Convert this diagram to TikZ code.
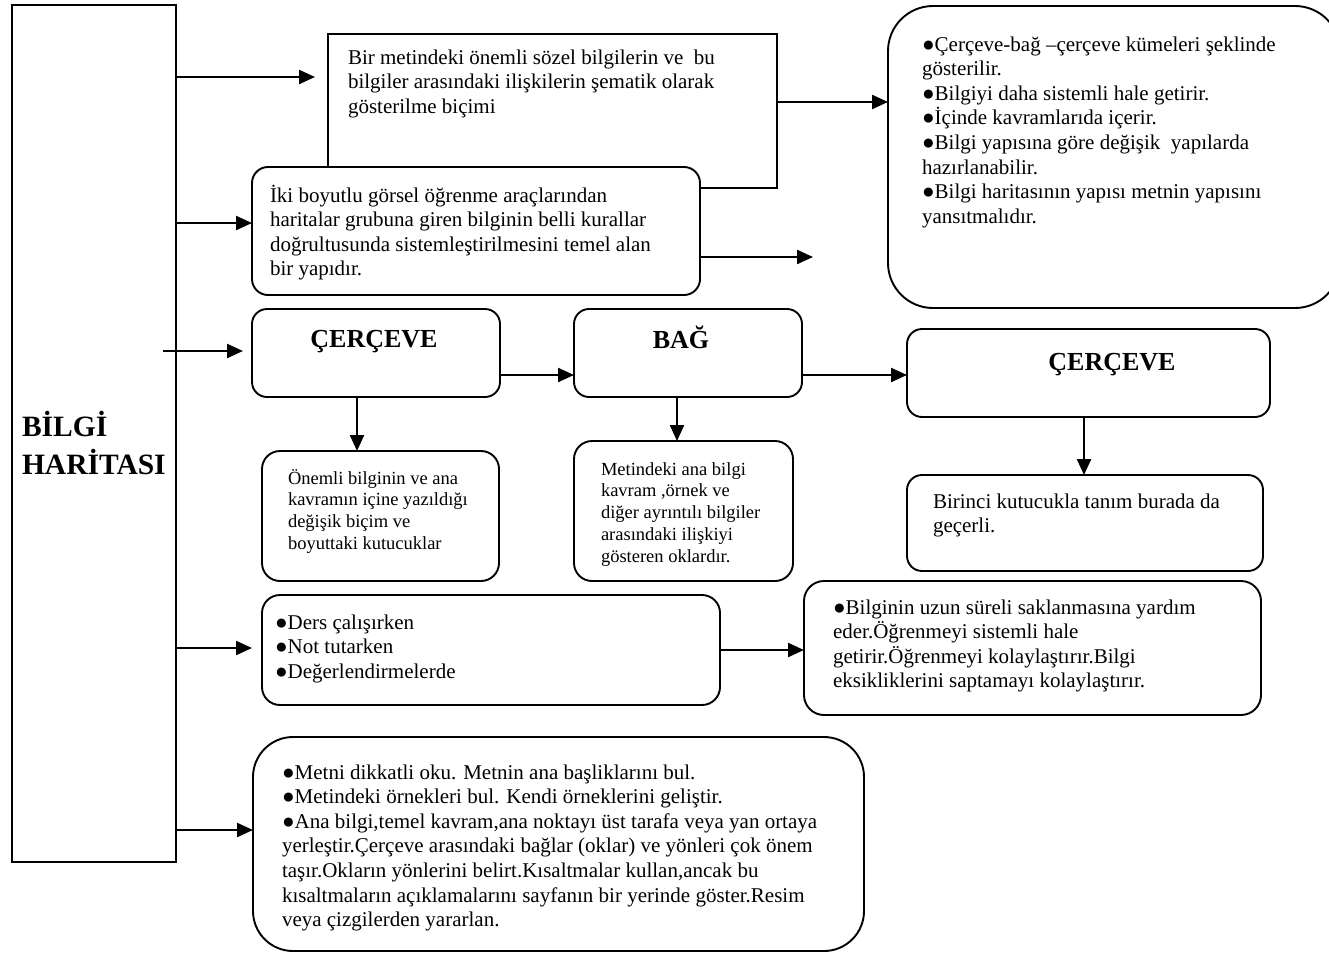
\documentclass[tikz,border=0pt]{standalone}
\usepackage{fontspec}
\setmainfont{Liberation Serif}
\usetikzlibrary{arrows.meta}

% text sizes (1pt = one unit of the drawing grid)
\newcommand\bodyfont{\fontsize{21}{24.6}\selectfont}
\newcommand\smallbody{\fontsize{18.5}{21.8}\selectfont}
\newcommand\headfont{\fontsize{26}{30}\selectfont\bfseries}
\newcommand\titlefont{\fontsize{29.5}{38}\selectfont\bfseries}
% top-aligned block of lines: its baseline is that of the first line
\newcommand\txtblock[1]{\parbox[t]{640pt}{\raggedright #1}}

\tikzset{
  box/.style={draw, fill=white, line width=1.9pt, inner sep=0pt, outer sep=0pt,
              anchor=north west, rounded corners=#1},
  box/.default=16pt,
  sbox/.style={draw, fill=white, line width=1.9pt, inner sep=0pt, outer sep=0pt,
               anchor=north west},
  arr/.style={line width=2.3pt, -{Triangle[length=16pt,width=14pt]}},
  txt/.style={anchor=base west, inner sep=0pt, outer sep=0pt},
  head/.style={anchor=base, inner sep=0pt, outer sep=0pt, font=\headfont},
}

\begin{document}
\begin{tikzpicture}[x=1pt,y=-1pt]
\path[use as bounding box] (0,0) rectangle (1329,953);
\clip (0,0) rectangle (1329,953);

% main column
\node[sbox, minimum width=164pt, minimum height=857pt] (bh) at (12,5) {};
\node[txt, font=\titlefont] (title) at (22,436) {\txtblock{BİLGİ\\HARİTASI}};

% definition boxes
\node[sbox, minimum width=449pt, minimum height=154pt] (A) at (328,34) {};
\node[txt, font=\bodyfont] (tA) at (348,64) {\txtblock{Bir metindeki önemli sözel bilgilerin ve\ \ bu\\
bilgiler arasındaki ilişkilerin şematik olarak\\
gösterilme biçimi}};

\node[box=16pt, minimum width=448pt, minimum height=128pt] (B) at (252,167) {};
\node[txt, font=\bodyfont] (tB) at (270,202) {\txtblock{İki boyutlu görsel öğrenme araçlarından\\
haritalar grubuna giren bilginin belli kurallar\\
doğrultusunda sistemleştirilmesini temel alan\\
bir yapıdır.}};

\node[box=45pt, minimum width=452pt, minimum height=302pt] (C) at (888,6) {};
\node[txt, font=\bodyfont] (tC) at (922,51) {\txtblock{●Çerçeve-bağ –çerçeve kümeleri şeklinde\\
gösterilir.\\
●Bilgiyi daha sistemli hale getirir.\\
●İçinde kavramlarıda içerir.\\
●Bilgi yapısına göre değişik\ \ yapılarda\\
hazırlanabilir.\\
●Bilgi haritasının yapısı metnin yapısını\\
yansıtmalıdır.}};

% frame - link - frame
\node[box=15pt, minimum width=248pt, minimum height=88pt] (D) at (252,309) {};
\node[head] (tD) at (374,347) {ÇERÇEVE};
\node[box=15pt, minimum width=228pt, minimum height=88pt] (E) at (574,309) {};
\node[head] (tE) at (681,348) {BAĞ};
\node[box=15pt, minimum width=363pt, minimum height=88pt] (F) at (907,329) {};
\node[head] (tF) at (1112,370) {ÇERÇEVE};

\node[box=18pt, minimum width=237pt, minimum height=130pt] (G) at (262,451) {};
\node[txt, font=\smallbody] (tG) at (288,484) {\txtblock{Önemli bilginin ve ana\\
kavramın içine yazıldığı\\
değişik biçim ve\\
boyuttaki kutucuklar}};

\node[box=18pt, minimum width=219pt, minimum height=140pt] (H) at (574,441) {};
\node[txt, font=\smallbody] (tH) at (601,475) {\txtblock{Metindeki ana bilgi\\
kavram ,örnek ve\\
diğer ayrıntılı bilgiler\\
arasındaki ilişkiyi\\
gösteren oklardır.}};

\node[box=15pt, minimum width=356pt, minimum height=96pt] (I) at (907,475) {};
\node[txt, font=\bodyfont] (tI) at (933,508) {\txtblock{Birinci kutucukla tanım burada da\\
geçerli.}};

% usage and benefits
\node[box=18pt, minimum width=458pt, minimum height=110pt] (J) at (262,595) {};
\node[txt, font=\bodyfont] (tJ) at (275,629) {\txtblock{●Ders çalışırken\\
●Not tutarken\\
●Değerlendirmelerde}};

\node[box=20pt, minimum width=457pt, minimum height=134pt] (K) at (804,581) {};
\node[txt, font=\bodyfont] (tK) at (833,614) {\txtblock{●Bilginin uzun süreli saklanmasına yardım\\
eder.Öğrenmeyi sistemli hale\\
getirir.Öğrenmeyi kolaylaştırır.Bilgi\\
eksikliklerini saptamayı kolaylaştırır.}};

% how to prepare
\node[box=40pt, minimum width=611pt, minimum height=214pt] (L) at (253,737) {};
\node[txt, font=\bodyfont] (tL) at (282,779) {\txtblock{●Metni dikkatli oku. Metnin ana başliklarını bul.\\
●Metindeki örnekleri bul. Kendi örneklerini geliştir.\\
●Ana bilgi,temel kavram,ana noktayı üst tarafa veya yan ortaya\\
yerleştir.Çerçeve arasındaki bağlar (oklar) ve yönleri çok önem\\
taşır.Okların yönlerini belirt.Kısaltmalar kullan,ancak bu\\
kısaltmaların açıklamalarını sayfanın bir yerinde göster.Resim\\
veya çizgilerden yararlan.}};

% free arrow ends
\coordinate (a1) at (315,77);
\coordinate (a3) at (243,351);
\coordinate (a4) at (252,648);
\coordinate (b2) at (813,257);

% connectors
\draw[arr] (bh.east |- a1) -- (a1);
\draw[arr] (bh.east |- 0,223) -- (B.west |- 0,223);
\draw[arr] ([xshift=-13pt]bh.east |- a3) -- (a3);
\draw[arr] (bh.east |- a4) -- (a4);
\draw[arr] (bh.east |- 0,830) -- (L.west |- 0,830);

\draw[arr] (A.east |- 0,102) -- (C.west |- 0,102);
\draw[arr] (B.east |- b2) -- (b2);

\draw[arr] (D.east |- 0,375) -- (E.west |- 0,375);
\draw[arr] (E.east |- 0,375) -- (F.west |- 0,375);
\draw[arr] (D.south -| 357,0) -- (G.north -| 357,0);
\draw[arr] (E.south -| 677,0) -- (H.north -| 677,0);
\draw[arr] (F.south -| 1084,0) -- (I.north -| 1084,0);
\draw[arr] (J.east) -- (K.west |- J.east);
\end{tikzpicture}
\end{document}
